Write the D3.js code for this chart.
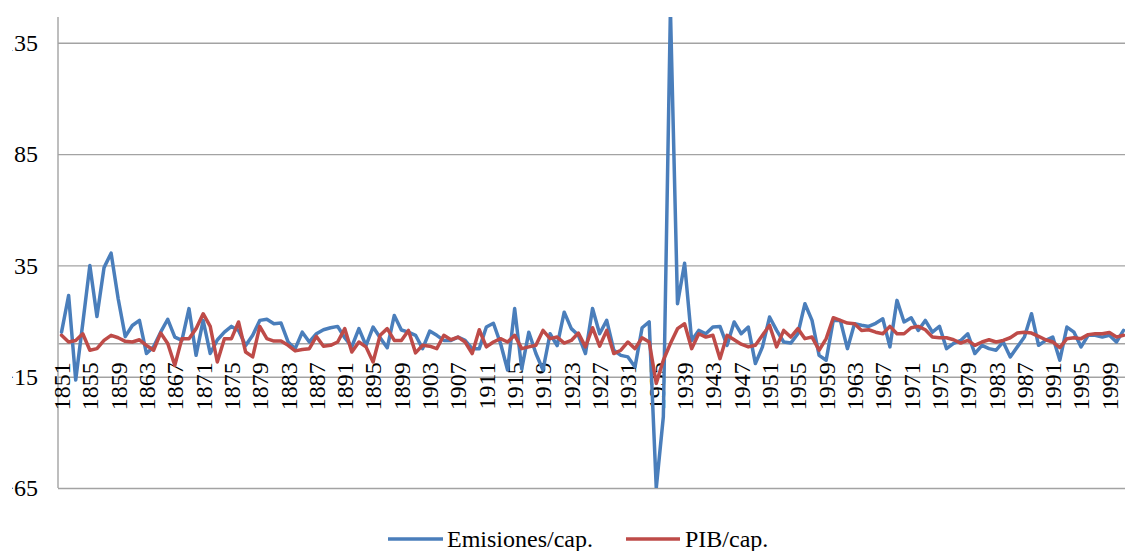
<!DOCTYPE html>
<html>
<head>
<meta charset="utf-8">
<script src="https://cdn.jsdelivr.net/npm/d3@7"></script>
<style>
  html, body { margin: 0; padding: 0; background: #ffffff; }
  svg { display: block; }
  svg text.lbl { font-family: "Liberation Serif", "Times New Roman", Tinos !important; font-size: 24px !important; }
</style>
</head>
<body>
<svg id="chart" width="1125" height="551"></svg>
<script>
// Years covered by both series
const years = d3.range(1851, 2002);

// Annual rate of change of emissions per capita (%)
const emisiones = [
  5, 21.5, -16.5, 9, 35, 12, 34, 40.5, 20, 3,
  8, 10.3, -4.6, -1.5, 5, 10.8, 2.8, 1.3, 15.6, -5.4,
  10.3, -4.6, 1.5, 5, 7.6, 5.8, -1, 3.6, 10.3, 10.8,
  8.8, 9.1, 0.6, -2.4, 5, 0.6, 4.3, 6.1, 7, 7.6,
  2.5, -1.5, 6.6, -1, 7.3, 2.5, -2, 12.5, 6, 5,
  3.6, -2.4, 5.5, 3.6, 1.3, 1.3, 2.8, 1.3, -2.4, -2.4,
  7.3, 9, 0, -12, 15.6, -11.5, 5, -4.6, -12, 4.3,
  -1, 14, 6.6, 3.6, -4.6, 15.6, 4.3, 10.3, -3.1, -5.4,
  -6.1, -10.6, 7, 9.6, -65, -33, 150, 17.8, 36, 1.3,
  5.8, 4.3, 7.3, 7.6, -0.9, 9.6, 4.3, 7.3, -9.1, -1.6,
  11.8, 5.8, 0.6, 0.1, 4.3, 17.8, 10.3, -5.4, -7.6, 10.3,
  10.3, -2.4, 8.8, 8.1, 7.6, 9, 11, -1.6, 19.3, 9.6,
  11.5, 5.8, 10.3, 5, 7.6, -2.4, 0, 1.3, 4.3, -4.6,
  -0.9, -2.4, -3.1, 0.6, -6.1, -1.6, 2.8, 13.3, -0.9, 1.3,
  2.8, -7.6, 7.3, 5, -1.6, 3.6, 3.6, 2.8, 3.6, 0.6,
  5.8
];

// Annual rate of change of GDP per capita (%)
const pib = [
  3.6, 0.6, 1.3, 4.3, -3.1, -2.4, 1.3, 3.6, 2.5, 0.9,
  0.6, 1.6, -0.9, -3.1, 4.6, -0.1, -9.9, 2.1, 2.1, 6.6,
  13.3, 7.6, -8.4, 2.1, 2.1, 9.6, -3.9, -6.1, 7.6, 2.1,
  1, 1, -0.9, -3.4, -2.8, -2.4, 3.1, -1.3, -0.9, 0.6,
  6.6, -3.9, 0.6, -1.6, -8.4, 3.6, 6.6, 1.3, 1.3, 5.8,
  -4.3, -0.9, -1.3, -2.4, 3.6, 1.6, 2.8, 0.6, -4.6, 6.1,
  -1.6, 0.6, 2.1, 0.6, 3.6, -2.4, -1.6, -0.9, 5.8, 2.1,
  2.8, 0.1, 1.3, 4.6, -1.6, 7, -1.3, 5.8, -4.6, -3.1,
  0.6, -2.4, 2.5, 0.6, -18, -7.6, -0.1, 6.6, 8.8, -2.4,
  4.3, 2.8, 3.6, -6.9, 3.6, 1.6, -0.4, -1.6, -0.9, 3.6,
  8.1, -1.6, 5.8, 2.8, 6.6, 2.1, 2.8, -3.1, 2.1, 11.5,
  10.3, 9.1, 8.8, 5.8, 6.1, 5, 4.3, 7.6, 4.3, 4.3,
  7, 7.6, 6.1, 2.8, 2.5, 2.5, 1.6, 0.1, 1.3, -0.9,
  0.6, 1.6, 0.6, 1.3, 2.5, 4.6, 5, 4.6, 3.1, 1.6,
  0.6, -1.9, 2.1, 2.5, 2.1, 3.9, 4.3, 4.3, 4.9, 2.8,
  3.6
];

// Axis ticks
const yTicks = [135, 85, 35, -15, -65];
const yearTicks = d3.range(1851, 2000, 4);

const seriesNames = ["Emisiones/cap.", "PIB/cap."];
const seriesColors = ["#4a7ebb", "#be4b48"];

const FONT = "\"Liberation Serif\", \"Times New Roman\", Tinos";

const svg = d3.select("#chart");
const W = 1125;
const plot = { left: 58, top: 17, bottom: 488, step: 7.08 };

const x = d3.scaleBand()
  .domain(years)
  .range([plot.left, plot.left + years.length * plot.step])
  .paddingInner(0).paddingOuter(0);

const y = d3.scaleLinear()
  .domain([-65, 146.6])
  .range([plot.bottom, plot.top]);

const gridColor = "#a3a3a3";

// Left edge clips the outer characters of the value labels
svg.append("clipPath").attr("id", "labelClip")
  .append("rect").attr("x", 12).attr("y", 0).attr("width", W).attr("height", 551);

// Horizontal gridlines and value labels
const yWrap = svg.append("g").attr("clip-path", "url(#labelClip)");
const yAxis = yWrap.append("g")
  .attr("class", "y-axis")
  .attr("transform", `translate(${plot.left},0)`)
  .call(d3.axisLeft(y)
    .tickValues(yTicks)
    .tickSize(-(W - plot.left))
    .tickPadding(20)
    .tickFormat(d3.format("d")));
yAxis.attr("font-family", FONT).attr("font-size", 24);
yAxis.select(".domain").remove();
yAxis.selectAll(".tick line").attr("stroke", gridColor).attr("stroke-width", 1.4);
yAxis.selectAll(".tick text")
  .attr("class", "lbl")
  .attr("fill", "#000");

// Vertical axis line
svg.append("line")
  .attr("x1", plot.left).attr("x2", plot.left)
  .attr("y1", plot.top).attr("y2", plot.bottom)
  .attr("stroke", gridColor).attr("stroke-width", 1.4);

// Category axis crossing at zero; year labels read bottom to top
const xAxis = svg.append("g")
  .attr("class", "x-axis")
  .attr("transform", `translate(0,${y(0)})`)
  .call(d3.axisBottom(x)
    .tickValues(yearTicks)
    .tickSize(0)
    .tickSizeOuter(0));
xAxis.attr("font-family", FONT).attr("font-size", 24);
xAxis.select(".domain").attr("stroke", gridColor).attr("stroke-width", 1.4);
xAxis.selectAll(".tick text")
  .attr("class", "lbl")
  .attr("fill", "#000")
  .attr("text-anchor", "end")
  .attr("transform", "rotate(-90)")
  .attr("x", -19)
  .attr("y", 0)
  .attr("dy", "0.35em");

// Series lines
svg.append("clipPath").attr("id", "plotClip")
  .append("rect")
  .attr("x", plot.left).attr("y", plot.top)
  .attr("width", W - plot.left).attr("height", plot.bottom - plot.top);

const line = d3.line()
  .x((d, i) => x(years[i]) + x.bandwidth() / 2)
  .y(d => y(d));

const lines = svg.append("g").attr("clip-path", "url(#plotClip)");
[emisiones, pib].forEach((values, k) => {
  lines.append("path")
    .datum(values)
    .attr("d", line)
    .attr("fill", "none")
    .attr("stroke", seriesColors[k])
    .attr("stroke-width", 3.5)
    .attr("stroke-linejoin", "round")
    .attr("stroke-linecap", "round");
});

// Legend
const legendItems = [
  { x1: 388, x2: 443, tx: 447 },
  { x1: 626, x2: 680, tx: 685 }
];
const legend = svg.append("g").attr("class", "legend")
  .attr("font-family", FONT).attr("font-size", 24);
legendItems.forEach((it, k) => {
  legend.append("line")
    .attr("x1", it.x1).attr("x2", it.x2)
    .attr("y1", 539).attr("y2", 539)
    .attr("stroke", seriesColors[k]).attr("stroke-width", 3.5);
  legend.append("text")
    .attr("class", "lbl")
    .attr("x", it.tx).attr("y", 547)
    .attr("fill", "#000")
    .text(seriesNames[k]);
});

// Label font, set with priority on every text element
svg.selectAll("text.lbl")
  .style("font-family", FONT, "important")
  .style("font-size", "24px", "important");
</script>
</body>
</html>
